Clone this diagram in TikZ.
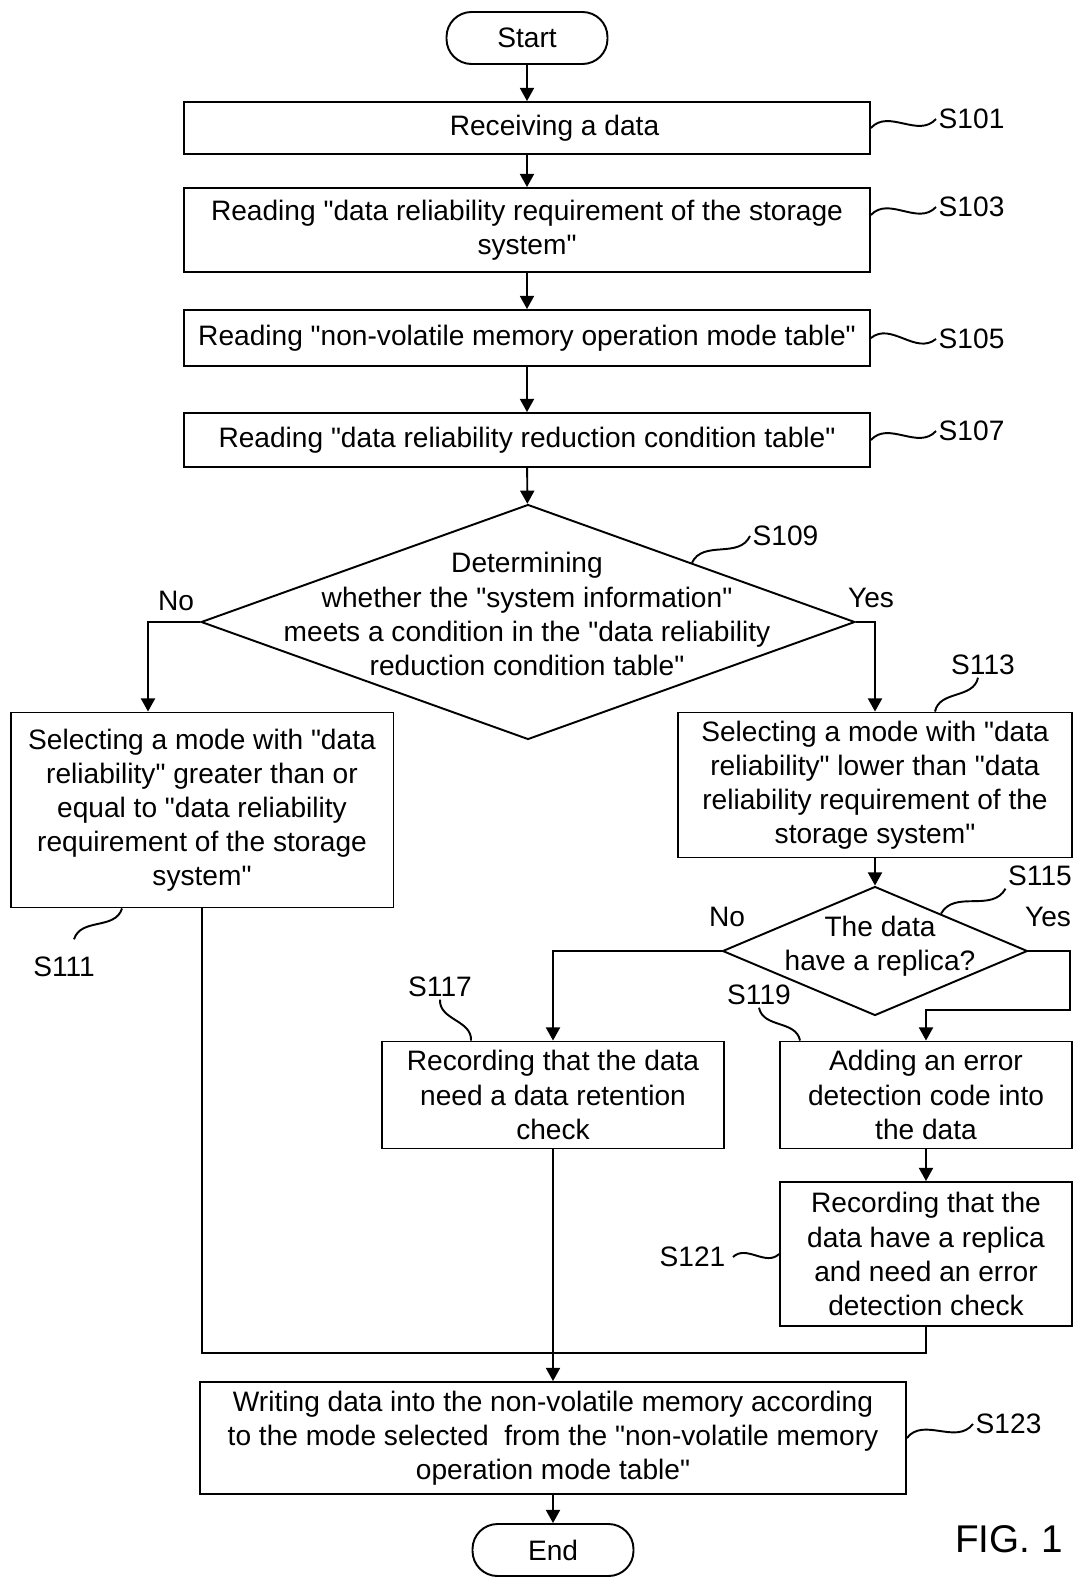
\documentclass[tikz,border=0pt]{standalone}
\usepackage{fontspec}
\setmainfont{Liberation Sans}[Ligatures=TeXOff]
\usetikzlibrary{arrows.meta,positioning,shapes.geometric,calc}

\begin{document}
\begin{tikzpicture}[
  x=0.02cm, y=-0.02cm,
  line width=1.1pt,
  every node/.style={font=\fontsize{16}{19.4}\selectfont, align=center, inner sep=1pt},
  box/.style={draw, rectangle, minimum width=13.72cm, inner sep=3pt},
  term/.style={draw, rectangle, rounded corners=0.5cm, minimum width=3.22cm,
    minimum height=1.04cm},
  dec/.style={draw, diamond, inner sep=0pt},
  arrow/.style={-{Triangle[length=7.5pt, width=8pt]}},
  squig/.style={to path={.. controls ($(\tikztostart)!0.4!#1:(\tikztotarget)$)
    and ($(\tikztotarget)!0.4!#1:(\tikztostart)$) .. (\tikztotarget)}},
  squig/.default=40
]
\useasboundingbox (0,0) rectangle (1073,1577);

\node[term] (start) at (527,38) {Start};
\node[box, minimum height=1.04cm] (s101) at (527,128) {\hspace*{1.1cm}Receiving a data};
\node[box, minimum height=1.68cm] (s103) at (527,230) {Reading "data reliability requirement of the storage\\system"};
\node[box, minimum height=1.12cm] (s105) at (527,338) {Reading "non-volatile memory operation mode table"};
\node[box, minimum height=1.08cm] (s107) at (527,440) {Reading "data reliability reduction condition table"};
\node[dec, minimum width=13.08cm, minimum height=4.70cm] (d109) at (528,622) {};
\node (t109) at (527,614) {Determining\\whether the "system information"\\meets a condition in the "data reliability\\reduction condition table"};
\node[box, minimum width=7.66cm, minimum height=3.90cm] (s111) at (202,810) {Selecting a mode with "data\\reliability" greater than or\\equal to "data reliability\\requirement of the storage\\system"};
\node[box, minimum width=7.88cm, minimum height=2.90cm] (s113) at (875,785) {Selecting a mode with "data\\reliability" lower than "data\\reliability requirement of the\\storage system"};
\node[dec, minimum width=6.10cm, minimum height=2.58cm] (d115) at (875,951) {};
\node (t115) at (880,946) {The data\\have a replica?};
\node[box, minimum width=6.84cm, minimum height=2.14cm] (s117) at (553,1095) {Recording that the data\\need a data retention\\check};
\node[box, minimum width=5.84cm, minimum height=2.14cm] (s119) at (926,1095) {Adding an error\\detection code into\\the data};
\node[box, minimum width=5.84cm, minimum height=2.88cm] (s121) at (926,1254) {Recording that the\\data have a replica\\and need an error\\detection check};
\node[box, minimum width=14.12cm, minimum height=2.24cm] (s123) at (553,1438) {Writing data into the non-volatile memory according\\to the mode selected\ \ from the "non-volatile memory\\operation mode table"};
\node[term] (finish) at (553,1550) {End};

% step labels
\node[anchor=west] (l101) at (936,119) {S101};
\node[anchor=west] (l103) at (936,207) {S103};
\node[anchor=west] (l105) at (936,339) {S105};
\node[anchor=west] (l107) at (936,431) {S107};
\node[anchor=west] (l109) at (750,536) {S109};
\node (l111) at (64,967) {S111};
\node (l113) at (983,665) {S113};
\node (l115) at (1040,876) {S115};
\node (l117) at (440,987) {S117};
\node (l119) at (759,995) {S119};
\node[anchor=east] (l121) at (728,1257) {S121};
\node[anchor=west] (l123) at (973,1424) {S123};

\node (no1) at (176,601) {No};
\node (yes1) at (871,598) {Yes};
\node (no2) at (727,917) {No};
\node (yes2) at (1048,917) {Yes};
\node[font=\fontsize{22}{26}\selectfont] (fig) at (1009,1539) {FIG. 1};

\draw[arrow] (start) -- (s101);
\draw[arrow] (s101) -- (s103);
\draw[arrow] (s103) -- (s105);
\draw[arrow] (s105) -- (s107);
\draw[arrow] (s107) -- (d109);
\draw[arrow] (d109.west) -| ([xshift=-1.08cm]s111.north);
\draw[arrow] (d109.east) -| (s113.north);
\draw[arrow] (s113) -- (d115);
\draw[arrow] (d115.west) -| (s117.north);
\draw[arrow] (d115.east) -- ++(42,0) |- ([yshift=0.62cm]s119.north) -- (s119.north);
\draw[arrow] (s119) -- (s121);
\coordinate (join) at (553,1353);
\draw (s111.south) |- (join);
\draw (s121.south) |- (join);
\draw[arrow] (s117) -- (s123);
\draw[arrow] (s123) -- (finish);

% squiggles
\draw (s101.east) to[squig] (l101.west);
\draw ([yshift=0.3cm]s103.east) to[squig] (l103.west);
\draw (s105.east) to[squig] (l105.west);
\draw (s107.east) to[squig] (l107.west);
\draw ($(d109.north)!0.5!(d109.east)$) to[squig] (l109.west);
\draw ([xshift=-1.6cm]s111.south) to[squig] ([xshift=0.2cm,yshift=0.3cm]l111.north);
\draw ([xshift=1.2cm]s113.north) to[squig] ([xshift=-0.1cm]l113.south);
\draw ($(d115.north)!0.43!(d115.east)$) to[squig] (l115.south west);
\draw (l117.south) to[squig=-40] ([xshift=-1.64cm]s117.north);
\draw (l119.south) to[squig=-40] ([xshift=-2.52cm]s119.north);
\draw ([xshift=0.1cm]l121.east) to[squig] (s121.west);
\draw (s123.east) to[squig] (l123.west);
\end{tikzpicture}
\end{document}
